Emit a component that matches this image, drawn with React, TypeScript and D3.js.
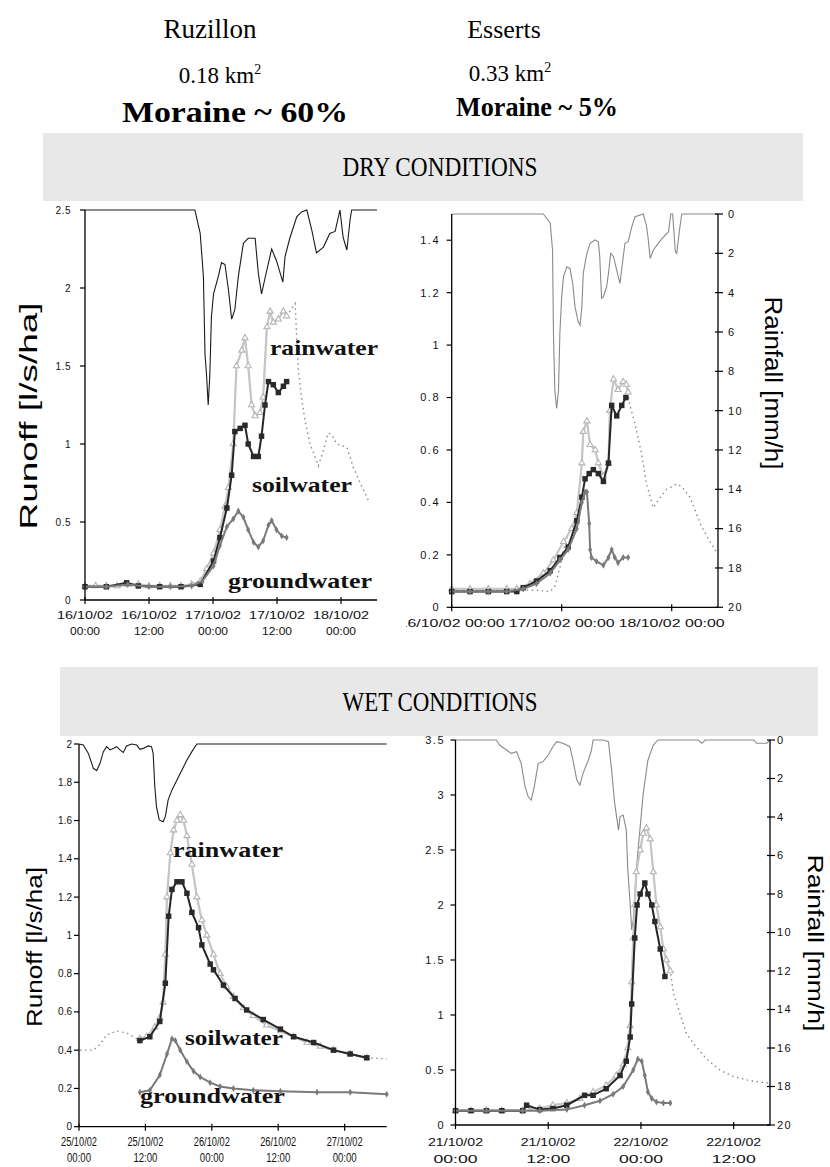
import React from "react";
import * as d3 from "d3";

type Pt = [number, number];

// ---------- DRY CONDITIONS, Ruzillon (hours since 16/10/02 00:00) ----------
const dryRuzRain: Pt[] = [[0,0],[20.6,0],[21.6,1.2],[22.2,3.4],[22.5,7.4],[22.8,8.5],[23.1,10],[23.4,8.5],[23.7,5.5],[24.1,4.3],[25.0,3.4],[25.6,2.7],[26.25,2.8],[26.9,4.1],[27.5,5.6],[28.1,5.1],[28.75,3.4],[29.7,1.7],[30.6,1.45],[31.9,1.45],[32.5,3.25],[33.1,4.3],[33.75,3.5],[35.0,2.0],[35.9,2.6],[37.1,3.7],[37.5,2.4],[38.4,1.45],[39.7,0.35],[40.6,0.1],[41.6,0],[42.5,1.0],[43.4,2.2],[44.7,1.9],[45.9,1.2],[46.9,1.1],[47.8,0],[48.4,1.4],[49.1,2.05],[49.7,0.5],[50.0,0],[54.75,0]];
const dryRuzTotal: Pt[] = [[0,0.09],[10,0.09],[20,0.09],[21.6,0.12],[22.8,0.2],[24.1,0.3],[25.3,0.45],[26.25,0.6],[26.9,0.72],[27.8,1.0],[28.4,1.5],[29.4,1.6],[30,1.68],[30.6,1.5],[31.25,1.25],[31.9,1.18],[32.8,1.2],[33.4,1.3],[34.1,1.75],[34.7,1.85],[35.3,1.78],[36.25,1.8],[37.2,1.85],[37.8,1.82],[39.4,1.9],[40,1.47],[40.6,1.3],[41.25,1.15],[42.2,1.0],[43.1,0.92],[43.75,0.86],[44.7,0.96],[45.6,1.07],[46.25,1.06],[47.2,1.0],[49.1,0.98],[50.3,0.85],[51.6,0.75],[53.4,0.62]];
const dryRuzRainwater: Pt[] = [[0,0.09],[2,0.09],[4,0.09],[6,0.09],[8,0.1],[10,0.1],[12,0.09],[14,0.09],[16,0.09],[18,0.09],[20,0.1],[21.6,0.12],[22.8,0.2],[24.1,0.3],[25.3,0.45],[26.25,0.6],[26.9,0.72],[27.8,1.0],[28.4,1.5],[29.4,1.6],[30,1.68],[30.6,1.5],[31.25,1.25],[31.9,1.18],[32.8,1.2],[33.4,1.3],[34.1,1.75],[34.7,1.85],[35.3,1.78],[36.25,1.8],[37.2,1.85],[37.8,1.82]];
const dryRuzSoil: Pt[] = [[0,0.085],[4,0.085],[7.8,0.11],[10,0.09],[14,0.085],[18,0.085],[21.6,0.1],[24.1,0.25],[25.3,0.4],[26.6,0.59],[27.5,0.8],[28.1,1.08],[29.1,1.1],[30,1.12],[30.6,1.0],[31.6,0.92],[32.5,0.92],[33.1,1.05],[33.75,1.25],[34.4,1.4],[35.3,1.38],[36.25,1.33],[37.2,1.37],[37.8,1.4]];
const dryRuzGround: Pt[] = [[0,0.085],[4,0.085],[8,0.1],[12,0.085],[16,0.085],[20,0.09],[22,0.12],[24.1,0.22],[25.3,0.35],[26.6,0.47],[27.8,0.52],[28.75,0.57],[29.7,0.53],[30.6,0.45],[31.6,0.37],[32.5,0.34],[33.4,0.38],[34.4,0.48],[35,0.51],[35.9,0.45],[36.9,0.41],[37.8,0.4]];
const dryRuzYTicks = [0, 0.5, 1, 1.5, 2, 2.5];
const dryRuzXTicks = [0, 12, 24, 36, 48];
const dryRuzXLabels = [["16/10/02", "00:00"], ["16/10/02", "12:00"], ["17/10/02", "00:00"], ["17/10/02", "12:00"], ["18/10/02", "00:00"]];

// ---------- DRY CONDITIONS, Esserts (hours since 16/10/02 00:00) ----------
const dryEssRain: Pt[] = [[0,0],[20.0,0],[21.5,0.47],[22.0,1.83],[22.2,6.07],[22.5,8.96],[22.9,9.89],[23.3,8.96],[23.6,6.07],[24.0,4.2],[24.4,3.19],[25.1,2.68],[25.8,2.77],[26.4,3.53],[26.9,4.72],[27.6,5.48],[28.0,5.65],[28.4,4.72],[28.7,3.02],[29.5,2.0],[30.2,1.49],[31.3,1.32],[32.0,1.41],[32.3,2.17],[32.7,4.29],[33.1,4.2],[33.8,3.7],[34.2,3.02],[34.7,2.0],[35.3,2.17],[36.0,2.85],[36.7,3.53],[37.8,1.49],[38.5,1.41],[39.3,0.64],[40.0,0.14],[41.8,0],[42.5,0.6],[42.9,1.32],[43.3,2.26],[44.0,1.83],[44.8,1.58],[45.9,1.24],[47.3,0.9],[47.8,0],[48.2,0],[48.8,1.92],[49.1,2.0],[49.7,0.81],[50.2,0],[58,0]];
const dryEssTotal: Pt[] = [[0,0.065],[14.2,0.065],[18.5,0.065],[21.5,0.06],[22.5,0.08],[23.6,0.15],[24.4,0.22],[25.4,0.28],[26.2,0.3],[27.3,0.36],[28.4,0.55],[28.7,0.67],[29.5,0.71],[30.2,0.62],[31.3,0.6],[32.0,0.55],[33.1,0.5],[34.2,0.55],[34.5,0.75],[35.3,0.87],[36.3,0.83],[37.4,0.86],[38.1,0.85],[38.9,0.77],[40.0,0.7],[41.5,0.58],[42.5,0.47],[44.0,0.38],[45.5,0.42],[46.9,0.45],[49.1,0.47],[50.2,0.46],[52.0,0.42],[54.2,0.32],[56.0,0.26],[57.8,0.21]];
const dryEssRainwater: Pt[] = [[0,0.07],[4,0.07],[8,0.07],[12,0.07],[14.2,0.07],[17.1,0.09],[20.0,0.13],[22.2,0.18],[24.4,0.25],[26.2,0.3],[27.3,0.36],[28.4,0.55],[28.7,0.67],[29.5,0.71],[30.2,0.62],[31.3,0.6],[32.0,0.55],[33.1,0.5],[34.2,0.55],[34.5,0.75],[35.3,0.87],[36.3,0.83],[37.4,0.86],[38.1,0.85],[38.5,0.82]];
const dryEssSoil: Pt[] = [[0,0.06],[4,0.06],[8,0.06],[12,0.06],[14.2,0.06],[15.6,0.075],[18.5,0.1],[21.5,0.14],[23.6,0.19],[25.4,0.23],[27.3,0.33],[28.4,0.42],[29.1,0.49],[30.0,0.51],[30.9,0.525],[32.0,0.51],[33.1,0.48],[34.2,0.55],[34.9,0.77],[36.0,0.73],[37.1,0.77],[38.0,0.8]];
const dryEssGround: Pt[] = [[0,0.06],[4,0.06],[8,0.06],[12,0.06],[15.6,0.07],[18.5,0.09],[21.5,0.13],[23.6,0.18],[25.4,0.22],[27.3,0.3],[28.4,0.4],[29.1,0.44],[29.5,0.44],[30.0,0.32],[30.2,0.22],[30.5,0.19],[31.6,0.175],[33.1,0.16],[34.2,0.19],[34.9,0.22],[35.6,0.19],[36.3,0.17],[37.4,0.19],[38.5,0.19]];
const dryEssYTicks = [0, 0.2, 0.4, 0.6, 0.8, 1, 1.2, 1.4];
const dryEssXTicks = [0, 24, 48];
const dryEssXLabels = [["16/10/02 00:00"], ["17/10/02 00:00"], ["18/10/02 00:00"]];

// ---------- WET CONDITIONS, Ruzillon (hours since 25/10/02 00:00) ----------
const wetRuzRain: Pt[] = [[0,0],[0.78,0.05],[1.69,0.49],[2.6,1.27],[3.2,1.39],[3.8,1.01],[4.4,0.4],[5.0,0.14],[5.6,0.31],[6.2,0.23],[6.8,0.14],[7.4,0.31],[8.0,0.44],[8.6,0.1],[9.5,0],[10.4,0.05],[11.0,0.28],[11.6,0.23],[12.5,0.1],[13.1,0.14],[13.4,0.49],[13.7,2.23],[14.0,3.27],[14.5,3.97],[15.2,4.06],[15.6,3.8],[16.1,2.93],[16.8,2.4],[17.7,1.88],[18.6,1.36],[19.5,0.84],[20.4,0.4],[21.3,0],[55.6,0]];
const wetRuzTotal: Pt[] = [[0.2,0.4],[2.6,0.4],[3.8,0.43],[5.0,0.48],[6.8,0.5],[8.6,0.49],[10.4,0.46],[11.0,0.46],[12.2,0.47],[13.7,0.52],[14.6,0.57],[15.2,0.65],[15.6,0.9],[15.9,1.2],[16.5,1.43],[17.1,1.55],[17.7,1.6],[18.3,1.63],[18.9,1.6],[19.5,1.52],[20.4,1.37],[21.3,1.2],[22.2,1.08],[23.1,1.0],[24.3,0.9],[25.5,0.8],[26.7,0.73],[27.9,0.68],[29.7,0.62],[31.5,0.58],[33.9,0.53],[36.4,0.5],[38.8,0.47],[41.2,0.44],[43.6,0.42],[46.0,0.4],[49.0,0.38],[52.0,0.36],[55.6,0.355]];
const wetRuzRainwater: Pt[] = [[11.0,0.46],[12.2,0.47],[13.7,0.52],[14.6,0.57],[15.2,0.65],[15.6,0.9],[15.9,1.2],[16.5,1.43],[17.1,1.55],[17.7,1.6],[18.3,1.63],[18.9,1.6],[19.5,1.52],[20.4,1.37],[21.3,1.2],[22.2,1.08],[23.1,1.0],[24.3,0.9],[25.5,0.8],[26.7,0.73],[27.9,0.68],[29.7,0.62],[31.5,0.58],[33.9,0.53],[36.4,0.5],[38.8,0.47],[41.2,0.44],[43.6,0.42],[46.0,0.4],[49.0,0.38],[52.0,0.36]];
const wetRuzSoil: Pt[] = [[11.0,0.45],[12.8,0.47],[14.6,0.55],[15.6,0.75],[16.2,1.1],[16.8,1.24],[17.7,1.28],[18.6,1.28],[19.5,1.22],[20.4,1.12],[21.6,1.04],[22.2,0.95],[23.7,0.85],[24.3,0.82],[26.1,0.74],[28.2,0.67],[30.3,0.61],[33.3,0.56],[36.4,0.51],[38.8,0.47],[42.4,0.44],[46.0,0.4],[49.0,0.38],[52.0,0.36]];
const wetRuzGround: Pt[] = [[11.0,0.18],[12.8,0.19],[14.6,0.27],[15.9,0.38],[16.8,0.46],[17.4,0.45],[18.3,0.4],[19.5,0.34],[20.7,0.29],[21.9,0.26],[23.7,0.23],[25.5,0.21],[27.9,0.2],[31.5,0.19],[36.4,0.185],[43.0,0.18],[49.0,0.18],[55.6,0.17]];
const wetRuzYTicks = [0, 0.2, 0.4, 0.6, 0.8, 1, 1.2, 1.4, 1.6, 1.8, 2];
const wetRuzXTicks = [0, 12, 24, 36, 48];
const wetRuzXLabels = [["25/10/02", "00:00"], ["25/10/02", "12:00"], ["26/10/02", "00:00"], ["26/10/02", "12:00"], ["27/10/02", "00:00"]];

// ---------- WET CONDITIONS, Esserts (hours since 21/10/02 00:00) ----------
const wetEssRain: Pt[] = [[0,0],[5.3,0],[5.7,0.26],[6.6,0.52],[7.2,0.69],[7.9,0.61],[8.5,1.21],[9.0,2.42],[9.4,2.94],[9.8,3.12],[10.2,2.42],[10.7,1.21],[11.3,1.13],[12.0,0.78],[12.6,0.35],[13.1,0.09],[13.9,0.17],[14.8,0.35],[15.2,1.04],[15.7,2.08],[16.1,2.34],[16.5,1.73],[17.2,1.04],[17.6,0.52],[17.8,0],[19.1,0],[19.8,0.09],[20.2,1.56],[20.6,3.29],[21.1,4.68],[21.3,3.98],[21.7,3.9],[22.1,4.68],[22.3,6.75],[22.6,8.49],[22.8,9.87],[23.0,9.35],[23.4,6.75],[23.9,4.5],[24.3,2.77],[24.9,1.04],[25.6,0.26],[26.2,0],[31.4,0],[31.9,0.17],[32.3,0],[38.6,0],[39.0,0.17],[40.3,0.17],[40.7,0]];
const wetEssTotal: Pt[] = [[0,0.13],[5,0.13],[8.7,0.13],[10.9,0.15],[12.6,0.18],[14.4,0.2],[16.1,0.24],[17.8,0.3],[19.5,0.36],[20.8,0.45],[21.7,0.55],[22.3,0.7],[22.6,0.9],[22.8,1.3],[23.0,1.7],[23.2,2.0],[23.4,2.3],[23.9,2.5],[24.3,2.65],[24.7,2.7],[25.2,2.6],[25.6,2.3],[26.0,2.0],[26.5,1.8],[26.9,1.6],[27.3,1.5],[27.8,1.4],[28.2,1.2],[29.1,1.0],[29.9,0.83],[30.8,0.74],[32.5,0.6],[34.2,0.5],[36.0,0.44],[37.7,0.41],[39.4,0.39],[40.7,0.38]];
const wetEssRainwater: Pt[] = [[0,0.13],[2,0.13],[4,0.13],[6,0.13],[8.7,0.13],[9.2,0.15],[10.9,0.15],[12.6,0.18],[14.4,0.2],[16.1,0.24],[17.8,0.3],[19.5,0.36],[20.8,0.45],[21.7,0.55],[22.3,0.7],[22.6,0.9],[22.8,1.3],[23.0,1.7],[23.2,2.0],[23.4,2.3],[23.9,2.5],[24.3,2.65],[24.7,2.7],[25.2,2.6],[25.6,2.3],[26.0,2.0],[26.5,1.8],[26.9,1.6],[27.3,1.5],[27.8,1.4]];
const wetEssSoil: Pt[] = [[0,0.13],[2,0.13],[4,0.13],[6,0.13],[8.7,0.13],[9.2,0.18],[10.9,0.14],[12.6,0.15],[14.4,0.18],[16.7,0.27],[17.8,0.27],[19.5,0.33],[21.3,0.45],[22.1,0.58],[22.6,0.8],[22.8,1.1],[23.2,1.7],[23.5,2.0],[23.9,2.1],[24.5,2.2],[24.9,2.1],[25.4,2.0],[25.8,1.85],[26.5,1.6],[27.1,1.35]];
const wetEssGround: Pt[] = [[0,0.13],[4,0.13],[8.7,0.13],[10.9,0.13],[14.4,0.14],[16.7,0.18],[18.7,0.22],[20.4,0.28],[21.7,0.35],[23.0,0.5],[23.6,0.6],[24.1,0.58],[24.5,0.45],[24.9,0.3],[25.4,0.24],[26.0,0.21],[26.9,0.2],[27.8,0.2]];
const wetEssYTicks = [0, 0.5, 1, 1.5, 2, 2.5, 3, 3.5];
const wetEssXTicks = [0, 12, 24, 36];
const wetEssXLabels = [["21/10/02", "00:00"], ["21/10/02", "12:00"], ["22/10/02", "00:00"], ["22/10/02", "12:00"]];

const rainTicks = [0, 2, 4, 6, 8, 10, 12, 14, 16, 18, 20];

const SANS = "'Liberation Sans', Arial, sans-serif";
const SERIF = "'Liberation Serif', 'Times New Roman', serif";

interface Series { rain: Pt[]; total: Pt[]; rainwater: Pt[]; soil: Pt[]; ground: Pt[]; }

interface PanelProps {
  left: number; right: number; top: number; bottom: number;
  hMax: number; vMax: number;
  yTicks: number[]; xTicks: number[]; xLabels: string[][];
  xLabelSize: number; xLabelLens: number[]; xLabelBase: number[];
  yLabelX: number; yLabelSize: number; yLabelSpacing: number;
  rainColor: string;
  right_axis?: { labelX: number };
  clip?: string;
  data: Series;
}

function Panel(p: PanelProps) {
  const x = d3.scaleLinear().domain([0, p.hMax]).range([p.left, p.right]);
  const y = d3.scaleLinear().domain([0, p.vMax]).range([p.bottom, p.top]);
  const yr = d3.scaleLinear().domain([0, 20]).range([p.top, p.bottom]);
  const ln = d3.line<Pt>().x(d => x(d[0])).y(d => y(d[1]));
  const rl = d3.line<Pt>().x(d => x(d[0])).y(d => yr(d[1]));
  const tri = d3.symbol().type(d3.symbolTriangle).size(16)() || "";
  const sq = d3.symbol().type(d3.symbolSquare).size(30)() || "";
  const dia = d3.symbol().type(d3.symbolDiamond).size(14)() || "";
  const tickColor = "#111";
  return (
    <g>
      <path d={rl(p.data.rain) || ""} fill="none" stroke={p.rainColor} strokeWidth={1.1} />
      <path d={ln(p.data.total) || ""} fill="none" stroke="#8c8c8c" strokeWidth={1.4} strokeDasharray="1.5,3.5" />
      <path d={ln(p.data.rainwater) || ""} fill="none" stroke="#c6c6c6" strokeWidth={2.2} />
      {p.data.rainwater.map((d, i) => (
        <path key={"t" + i} d={tri} transform={`translate(${x(d[0])},${y(d[1])})`} fill="#fff" stroke="#b4b4b4" strokeWidth={1.1} />
      ))}
      <path d={ln(p.data.soil) || ""} fill="none" stroke="#262626" strokeWidth={2} />
      {p.data.soil.map((d, i) => (
        <path key={"s" + i} d={sq} transform={`translate(${x(d[0])},${y(d[1])})`} fill="#2a2a2a" />
      ))}
      <path d={ln(p.data.ground) || ""} fill="none" stroke="#7a7a7a" strokeWidth={2} />
      {p.data.ground.map((d, i) => (
        <path key={"g" + i} d={dia} transform={`translate(${x(d[0])},${y(d[1])})`} fill="#7a7a7a" />
      ))}
      {/* left axis */}
      <line x1={p.left} x2={p.left} y1={p.top} y2={p.bottom} stroke="#000" strokeWidth={1.3} />
      {p.yTicks.map(t => (
        <g key={"yt" + t}>
          <line x1={p.left - 5} x2={p.left} y1={y(t)} y2={y(t)} stroke="#000" strokeWidth={1.2} />
          <text x={p.yLabelX} y={y(t)} dy="0.35em" textAnchor="end" fontFamily={SANS} fontSize={p.yLabelSize} letterSpacing={p.yLabelSpacing} fill={tickColor}>{String(t)}</text>
        </g>
      ))}
      {/* bottom axis */}
      <line x1={p.left} x2={p.right} y1={p.bottom} y2={p.bottom} stroke="#000" strokeWidth={1.3} />
      <g clipPath={p.clip ? `url(#${p.clip})` : undefined}>
        {p.xTicks.map((t, i) => (
          <g key={"xt" + t}>
            <line x1={x(t)} x2={x(t)} y1={p.bottom - 3} y2={p.bottom + 4} stroke="#000" strokeWidth={1.2} />
            {p.xLabels[i].map((s, j) => (
              <text key={j} x={x(t)} y={p.xLabelBase[j]} textAnchor="middle" fontFamily={SANS} fontSize={p.xLabelSize}
                textLength={p.xLabelLens[j]} lengthAdjust="spacingAndGlyphs" fill={tickColor}>{s}</text>
            ))}
          </g>
        ))}
      </g>
      {p.right_axis && (
        <g>
          <line x1={p.right} x2={p.right} y1={p.top} y2={p.bottom} stroke="#000" strokeWidth={1.3} />
          {rainTicks.map(t => (
            <g key={"rt" + t}>
              <line x1={p.right - 3} x2={p.right + 5} y1={yr(t)} y2={yr(t)} stroke="#000" strokeWidth={1.2} />
              <text x={p.right_axis!.labelX} y={yr(t)} dy="0.35em" textAnchor="start" fontFamily={SANS} fontSize={p.yLabelSize} letterSpacing={p.yLabelSpacing} fill={tickColor}>{String(t)}</text>
            </g>
          ))}
        </g>
      )}
    </g>
  );
}

function Annot({ x, y, len, text }: { x: number; y: number; len: number; text: string }) {
  return (
    <text x={x} y={y} fontFamily={SERIF} fontWeight="bold" fontSize={22} textLength={len} lengthAdjust="spacingAndGlyphs" fill="#111">{text}</text>
  );
}

function VLabel({ x, y, len, text, rot, size }: { x: number; y: number; len: number; text: string; rot: number; size: number }) {
  return (
    <text transform={`translate(${x},${y}) rotate(${rot})`} textAnchor="middle" dy="0.35em" fontFamily={SANS} fontSize={size}
      textLength={len} lengthAdjust="spacingAndGlyphs" fill="#000">{text}</text>
  );
}

export default function App() {
  return (
    <svg width={830} height={1167} style={{ position: "absolute", left: 0, top: 0, background: "#fff" }}>
      <defs>
        <clipPath id="clipEss"><rect x={406} y={600} width={424} height={60} /></clipPath>
      </defs>
      <rect x={0} y={0} width={830} height={1167} fill="#fff" />
      {/* header */}
      <text x={210} y={38} textAnchor="middle" fontFamily={SERIF} fontSize={27}>Ruzillon</text>
      <text x={220} y={83} textAnchor="middle" fontFamily={SERIF} fontSize={23}>0.18 km<tspan dy={-9} fontSize={14}>2</tspan></text>
      <text x={235} y={122} textAnchor="middle" fontFamily={SERIF} fontWeight="bold" fontSize={29} textLength={226} lengthAdjust="spacingAndGlyphs">Moraine ~ 60%</text>
      <text x={504} y={38} textAnchor="middle" fontFamily={SERIF} fontSize={26}>Esserts</text>
      <text x={510} y={81} textAnchor="middle" fontFamily={SERIF} fontSize={23}>0.33 km<tspan dy={-9} fontSize={14}>2</tspan></text>
      <text x={537} y={116} textAnchor="middle" fontFamily={SERIF} fontWeight="bold" fontSize={28} textLength={162} lengthAdjust="spacingAndGlyphs">Moraine ~ 5%</text>

      <rect x={43} y={133} width={760} height={68} fill="#e8e8e8" />
      <text x={440} y={176} textAnchor="middle" fontFamily={SERIF} fontSize={28} textLength={195} lengthAdjust="spacingAndGlyphs">DRY CONDITIONS</text>
      <rect x={60} y={667} width={758} height={69} fill="#e8e8e8" />
      <text x={440} y={711} textAnchor="middle" fontFamily={SERIF} fontSize={28} textLength={195} lengthAdjust="spacingAndGlyphs">WET CONDITIONS</text>

      {/* panel 1 */}
      <Panel left={85} right={377} top={210} bottom={600} hMax={54.75} vMax={2.5}
        yTicks={dryRuzYTicks} xTicks={dryRuzXTicks} xLabels={dryRuzXLabels}
        xLabelSize={11} xLabelLens={[56, 30]} xLabelBase={[619, 635]}
        yLabelX={71} yLabelSize={10} yLabelSpacing={0.5} rainColor="#1a1a1a"
        data={{ rain: dryRuzRain, total: dryRuzTotal, rainwater: dryRuzRainwater, soil: dryRuzSoil, ground: dryRuzGround }} />
      <VLabel x={29} y={416} len={227} text="Runoff [l/s/ha]" rot={-90} size={23} />
      <Annot x={270} y={355} len={108} text="rainwater" />
      <Annot x={252} y={492} len={100} text="soilwater" />
      <Annot x={228} y={588} len={144} text="groundwater" />

      {/* panel 2 */}
      <Panel left={451.7} right={718} top={214} bottom={607.3} hMax={58.1} vMax={1.5}
        yTicks={dryEssYTicks} xTicks={dryEssXTicks} xLabels={dryEssXLabels}
        xLabelSize={11} xLabelLens={[106]} xLabelBase={[627]}
        yLabelX={440} yLabelSize={11} yLabelSpacing={1.5} rainColor="#8a8a8a"
        right_axis={{ labelX: 728 }} clip="clipEss"
        data={{ rain: dryEssRain, total: dryEssTotal, rainwater: dryEssRainwater, soil: dryEssSoil, ground: dryEssGround }} />
      <VLabel x={773} y={383} len={173} text="Rainfall [mm/h]" rot={90} size={23} />

      {/* panel 3 */}
      <Panel left={79} right={386.7} top={744} bottom={1126.7} hMax={55.6} vMax={2}
        yTicks={wetRuzYTicks} xTicks={wetRuzXTicks} xLabels={wetRuzXLabels}
        xLabelSize={12} xLabelLens={[36, 24]} xLabelBase={[1146, 1162]}
        yLabelX={72} yLabelSize={10} yLabelSpacing={0} rainColor="#1a1a1a"
        data={{ rain: wetRuzRain, total: wetRuzTotal, rainwater: wetRuzRainwater, soil: wetRuzSoil, ground: wetRuzGround }} />
      <VLabel x={34} y={947} len={160} text="Runoff [l/s/ha]" rot={-90} size={22} />
      <Annot x={173} y={857} len={110} text="rainwater" />
      <Annot x={185} y={1045} len={98} text="soilwater" />
      <Annot x={140} y={1103} len={145} text="groundwater" />

      {/* panel 4 */}
      <Panel left={455.5} right={770} top={740} bottom={1125} hMax={40.7} vMax={3.5}
        yTicks={wetEssYTicks} xTicks={wetEssXTicks} xLabels={wetEssXLabels}
        xLabelSize={11} xLabelLens={[55, 44]} xLabelBase={[1146, 1163]}
        yLabelX={445} yLabelSize={11} yLabelSpacing={1.5} rainColor="#8a8a8a"
        right_axis={{ labelX: 777 }}
        data={{ rain: wetEssRain, total: wetEssTotal, rainwater: wetEssRainwater, soil: wetEssSoil, ground: wetEssGround }} />
      <VLabel x={816} y={943} len={177} text="Rainfall [mm/h]" rot={90} size={22} />
    </svg>
  );
}
